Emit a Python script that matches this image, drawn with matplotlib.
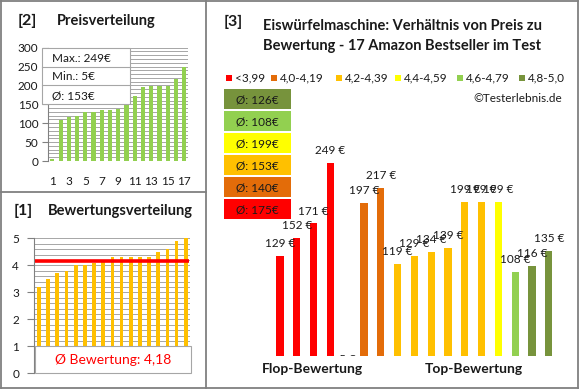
import matplotlib
matplotlib.use("Agg")
import matplotlib.pyplot as plt
from matplotlib.patches import Rectangle
from matplotlib.lines import Line2D
import numpy as np

plt.rcParams['font.family'] = ['Lato', 'DejaVu Sans']

# price per product, in the order of chart [3]
prices = [129, 152, 171, 249, 5, 197, 217, 119, 129, 134, 139, 199, 199, 199, 108, 116, 135]
# rating class of each product (index into class_labels)
bar_group = [0, 0, 0, 0, 1, 1, 1, 2, 2, 2, 2, 2, 2, 3, 4, 5, 5]
class_labels = ['<3,99', '4,0-4,19', '4,2-4,39', '4,4-4,59', '4,6-4,79', '4,8-5,0']
class_colors = ['#FF0000', '#E36C09', '#FFC000', '#FFFF00', '#92D050', '#77933C']
# ratings, sorted, for chart [1]
ratings = [3.2, 3.5, 3.7, 3.8, 4.0, 4.0, 4.1, 4.2, 4.3, 4.3, 4.3, 4.3, 4.3, 4.5, 4.6, 4.9, 5.0]

W, H = 580, 390
GRAY = '#808080'
GRID = '#A6A6A6'
TXT = '#1a1a1a'

fig = plt.figure(figsize=(W / 100, H / 100), dpi=100)


def box(l, t, r, b):
    """pixel box (left, top, right, bottom) -> figure rect"""
    return [l / W, 1 - b / H, (r - l) / W, (b - t) / H]


def ftxt(x, y, s, **kw):
    kw.setdefault('color', TXT)
    fig.text(x / W, 1 - y / H, s, **kw)


def frect(l, t, r, b, **kw):
    fig.add_artist(Rectangle((l / W, 1 - b / H), (r - l) / W, (b - t) / H,
                             transform=fig.transFigure, **kw))


def fline(x0, y0, x1, y1, color=GRAY, lw=1.3, zorder=2):
    fig.add_artist(Line2D([x0 / W, x1 / W], [1 - y0 / H, 1 - y1 / H],
                          transform=fig.transFigure, color=color, lw=lw, zorder=zorder))


n = len(prices)
x = np.arange(n)

# ---- [2] Preisverteilung
sorted_prices = sorted(prices)
ax2 = fig.add_axes(box(48.2, 47.7, 188.4, 161))
ax2.bar(x, sorted_prices, width=0.5, color='#92D050', zorder=3)
ax2.set_xlim(-0.5, n - 0.5)
ax2.set_ylim(0, 300)
ax2.set_yticks(np.arange(0, 301, 50))
ax2.set_yticks(np.arange(0, 301, 10), minor=True)
ax2.set_xticks(x[::2])
ax2.set_xticklabels([str(i + 1) for i in x[::2]])
ax2.grid(axis='y', which='both', color=GRID, lw=0.7, zorder=0)
for s in ['top', 'right', 'bottom']:
    ax2.spines[s].set_visible(False)
ax2.spines['left'].set_color(GRAY)
ax2.tick_params(axis='y', which='minor', length=0)
ax2.tick_params(axis='y', which='major', length=4, color=GRAY, labelsize=8.5, labelcolor=TXT, pad=3)
ax2.tick_params(axis='x', length=0, labelsize=8.5, labelcolor=TXT, pad=11)

ftxt(27, 21, '[2]', fontsize=11.5, fontweight='bold', ha='center', va='center')
ftxt(57, 21, 'Preisverteilung', fontsize=10.5, fontweight='bold', ha='left', va='center')

# stats box
frect(42, 48, 130, 104, facecolor='white', edgecolor=GRID, lw=0.8, zorder=5)
for yy in [67, 85]:
    fline(42, yy, 130, yy, color=GRID, lw=0.8, zorder=6)
stats = ['Max.: %d€' % max(prices), 'Min.: %d€' % min(prices),
         'Ø: %d€' % round(np.mean(prices))]
for i, s in enumerate(stats):
    ftxt(52, 58.5 + 18.5 * i, s, fontsize=8.5, ha='left', va='center', zorder=7)

# ---- [1] Bewertungsverteilung
ax1 = fig.add_axes(box(34.4, 238.3, 190.3, 373.3))
ax1.bar(x, ratings, width=0.4, color='#FFC000', zorder=3)
mean_r = np.mean(ratings)
ax1.hlines(mean_r, -0.4, n - 0.6, color='#FF0000', lw=2.6, zorder=4)
ax1.set_xlim(-0.5, n - 0.5)
ax1.set_ylim(0, 5)
ax1.set_yticks(np.arange(0, 6, 1))
ax1.set_yticks(np.arange(0, 5.01, 0.2), minor=True)
ax1.set_xticks([])
ax1.grid(axis='y', which='both', color=GRID, lw=0.7, zorder=0)
for s in ['top', 'right', 'bottom']:
    ax1.spines[s].set_visible(False)
ax1.spines['left'].set_color(GRAY)
ax1.tick_params(axis='y', which='minor', length=0)
ax1.tick_params(axis='y', which='major', length=5, color=GRAY, labelsize=8.5, labelcolor=TXT, pad=6)

ftxt(23.5, 211, '[1]', fontsize=11.5, fontweight='bold', ha='center', va='center')
ftxt(48, 211, 'Bewertungsverteilung', fontsize=10.5, fontweight='bold', ha='left', va='center')

frect(35, 346, 191, 373, facecolor='white', edgecolor=GRID, lw=0.8, zorder=5)
ftxt(113, 359.5, 'Ø Bewertung: ' + ('%.2f' % mean_r).replace('.', ','),
     fontsize=10, color='#FF0000', ha='center', va='center', zorder=7)

# ---- [3] Preis vs Bewertung
ax3 = fig.add_axes(box(271.6, 123.5, 557.2, 356))
bar_colors = [class_colors[g] for g in bar_group]
ax3.bar(x, prices, width=0.42, color=bar_colors)
ax3.set_xlim(-0.5, n - 0.5)
ax3.set_ylim(0, 300)
ax3.axis('off')
for xi, v in zip(x, prices):
    if v < 20:
        # label sits on the baseline and is cut off by the plot area
        t = ax3.annotate('%d €' % v, (xi, 0), xytext=(0, -2.2), textcoords='offset points',
                         ha='center', va='center', fontsize=8.5, color=TXT,
                         bbox=dict(facecolor='white', edgecolor='none', pad=1.2),
                         annotation_clip=False)
        t.set_clip_on(True)
        t.set_clip_box(ax3.bbox)
    else:
        ax3.annotate('%d €' % v, (xi, v), xytext=(0, 5), textcoords='offset points',
                     ha='center', va='bottom', fontsize=8.5, color=TXT)

ftxt(233, 22, '[3]', fontsize=11.5, fontweight='bold', ha='center', va='center')
ftxt(402, 26, 'Eiswürfelmaschine: Verhältnis von Preis zu', fontsize=10.5,
     fontweight='bold', ha='center', va='center')
ftxt(402, 46, 'Bewertung - 17 Amazon Bestseller im Test', fontsize=10.5,
     fontweight='bold', ha='center', va='center')

# legend row
leg_x = [229, 274, 338.7, 397.7, 460, 521.7]
for lx, lab, col in zip(leg_x, class_labels, class_colors):
    frect(lx - 3, 74.7, lx + 3, 80.7, facecolor=col, edgecolor='none')
    ftxt(lx + 6, 78, lab, fontsize=8.5, ha='left', va='center')

ftxt(562, 98, '©Testerlebnis.de', fontsize=8.5, ha='right', va='center')

# average boxes, top = best class
for i, g in enumerate(range(len(class_labels) - 1, -1, -1)):
    vals = [p for p, b in zip(prices, bar_group) if b == g]
    top = 89 + 22 * i
    frect(224, top, 291, top + 20, facecolor=class_colors[g], edgecolor='none')
    ftxt(257.5, top + 10.5, 'Ø: %d€' % round(np.mean(vals)), fontsize=8.5,
         ha='center', va='center')

ftxt(312, 369, 'Flop-Bewertung', fontsize=10, fontweight='bold', ha='center', va='center')
ftxt(474, 369, 'Top-Bewertung', fontsize=10, fontweight='bold', ha='center', va='center')

# frames
fline(1, 1, 578, 1)
fline(1, 388, 578, 388)
fline(1, 1, 1, 388)
fline(578, 1, 578, 388)
fline(205.5, 1, 205.5, 388)
fline(1, 192, 205.5, 192)

fig.savefig('out.png', dpi=100)
